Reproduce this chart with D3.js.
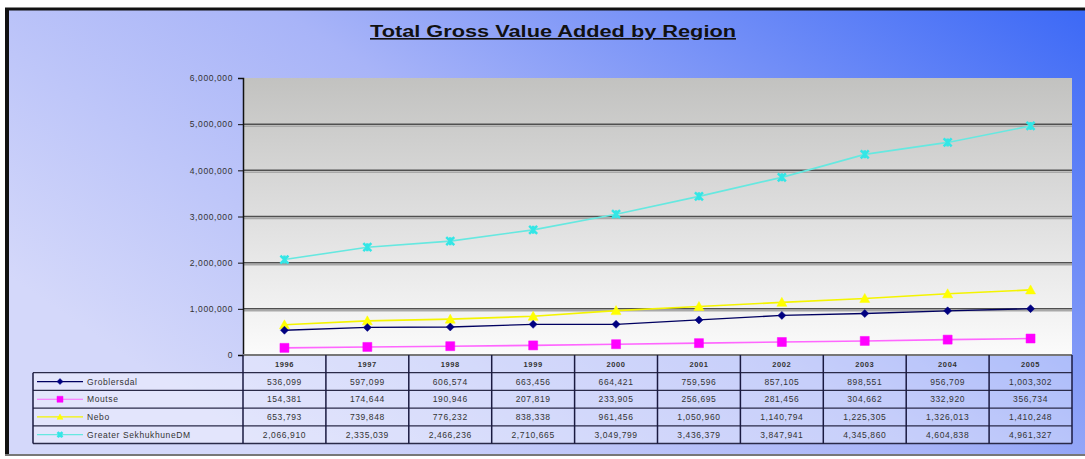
<!DOCTYPE html>
<html>
<head>
<meta charset="utf-8">
<script src="https://cdn.jsdelivr.net/npm/d3@7"></script>
<style>
  html, body { margin: 0; padding: 0; background: #fff; }
  svg { display: block; font-family: "Liberation Sans", Arial, sans-serif; }
</style>
</head>
<body>
<div id="chart"></div>
<script>
// chart data
const years = ['1996', '1997', '1998', '1999', '2000', '2001', '2002', '2003', '2004', '2005'];
const regionNames = ['Groblersdal', 'Moutse', 'Nebo', 'Greater SekhukhuneDM'];
const groblersdal = [536099, 597099, 606574, 663456, 664421, 759596, 857105, 898551, 956709, 1003302];
const moutse = [154381, 174644, 190946, 207819, 233905, 256695, 281456, 304662, 332920, 356734];
const nebo = [653793, 739848, 776232, 838338, 961456, 1050960, 1140794, 1225305, 1326013, 1410248];
const sekhukhune = [2066910, 2335039, 2466236, 2710665, 3049799, 3436379, 3847941, 4345860, 4604838, 4961327];
const yTicks = [0, 1000000, 2000000, 3000000, 4000000, 5000000, 6000000];

const W = 1085, H = 459;
const plot = { left: 243, right: 1072, top: 78, bottom: 355 };
const tableLeft = 33, rowH = 17.7;

const series = [
  { name: regionNames[0], values: groblersdal, color: '#000080', line: '#000060', marker: 'diamond' },
  { name: regionNames[1], values: moutse, color: '#ff00ff', line: '#ff66ff', marker: 'square' },
  { name: regionNames[2], values: nebo, color: '#ffff00', line: '#f4f400', marker: 'triangle' },
  { name: regionNames[3], values: sekhukhune, color: '#33e6e6', line: '#66e8e0', marker: 'star' }
];

const svg = d3.select('#chart').append('svg')
  .attr('width', W).attr('height', H);

const defs = svg.append('defs');
const bg = defs.append('linearGradient').attr('id', 'bg')
  .attr('x1', '0%').attr('y1', '60%').attr('x2', '100%').attr('y2', '0%');
bg.append('stop').attr('offset', '0%').attr('stop-color', '#d4d8fa');
bg.append('stop').attr('offset', '45%').attr('stop-color', '#a8b4f8');
bg.append('stop').attr('offset', '100%').attr('stop-color', '#3b68f6');

const plotBg = defs.append('linearGradient').attr('id', 'plotbg')
  .attr('x1', '0').attr('y1', '0').attr('x2', '0').attr('y2', '1');
plotBg.append('stop').attr('offset', '0%').attr('stop-color', '#c2c2c0');
plotBg.append('stop').attr('offset', '45%').attr('stop-color', '#dcdcdc');
plotBg.append('stop').attr('offset', '100%').attr('stop-color', '#fbfbfb');

// outer panel + frame
svg.append('rect').attr('x', 8).attr('y', 10).attr('width', W).attr('height', 444)
  .attr('fill', 'url(#bg)');
svg.append('line').attr('x1', 5).attr('x2', W).attr('y1', 9).attr('y2', 9)
  .attr('stroke', '#111').attr('stroke-width', 3);
svg.append('line').attr('x1', 7).attr('x2', 7).attr('y1', 8).attr('y2', 455)
  .attr('stroke', '#111').attr('stroke-width', 4);
svg.append('line').attr('x1', 5).attr('x2', W).attr('y1', 455).attr('y2', 455)
  .attr('stroke', '#777').attr('stroke-width', 2);

// title
svg.append('text')
  .attr('x', 553).attr('y', 37)
  .attr('text-anchor', 'middle')
  .attr('textLength', 366)
  .attr('lengthAdjust', 'spacingAndGlyphs')
  .style('font-size', '16px')
  .style('font-weight', 'bold')
  .style('fill', '#111')
  .style('text-decoration', 'underline')
  .text('Total Gross Value Added by Region');

// scales
const x = d3.scaleBand().domain(years).range([plot.left, plot.right]);
const y = d3.scaleLinear().domain([0, 6000000]).range([plot.bottom, plot.top]);

// plot area
svg.append('rect')
  .attr('x', plot.left).attr('y', plot.top)
  .attr('width', plot.right - plot.left).attr('height', plot.bottom - plot.top)
  .attr('fill', 'url(#plotbg)');

// gridlines
const grid = svg.append('g');
grid.selectAll('line.shadow').data(yTicks.filter(d => d > 0 && d < 6000000)).enter()
  .append('line').attr('class', 'shadow')
  .attr('x1', plot.left).attr('x2', plot.right)
  .attr('y1', d => y(d) + 2).attr('y2', d => y(d) + 2)
  .attr('stroke', '#a8a8a8').attr('stroke-width', 1.5);
grid.selectAll('line.main').data(yTicks.filter(d => d > 0 && d < 6000000)).enter()
  .append('line').attr('class', 'main')
  .attr('x1', plot.left).attr('x2', plot.right)
  .attr('y1', d => y(d)).attr('y2', d => y(d))
  .attr('stroke', '#505050').attr('stroke-width', 1.5);

// y axis
const yAxis = svg.append('g')
  .attr('transform', `translate(${plot.left},0)`)
  .call(d3.axisLeft(y).tickValues(yTicks).tickSize(5).tickPadding(5).tickFormat(d3.format(',')));
yAxis.select('.domain').attr('stroke', '#111').attr('stroke-width', 1.5);
yAxis.selectAll('.tick line').attr('stroke', '#111');
yAxis.selectAll('.tick text')
  .style('font-size', '8.5px').style('fill', '#333').style('letter-spacing', '0.6px')
  .attr('dy', '0.32em');

// table
const table = svg.append('g');
const valueRows = series.map(s => s.values);
const tableTop = plot.bottom;
const tableBottom = tableTop + rowH * (series.length + 1);

// cell background
table.append('rect')
  .attr('x', plot.left).attr('y', tableTop)
  .attr('width', plot.right - plot.left).attr('height', tableBottom - tableTop)
  .attr('fill', '#ffffff').attr('opacity', 0.35);
table.append('rect')
  .attr('x', tableLeft).attr('y', tableTop + rowH)
  .attr('width', plot.left - tableLeft).attr('height', rowH * series.length)
  .attr('fill', '#ffffff').attr('opacity', 0.35);

// horizontal lines
d3.range(series.length + 2).forEach(i => {
  const yy = tableTop + i * rowH;
  table.append('line')
    .attr('x1', i === 0 ? plot.left : tableLeft).attr('x2', plot.right)
    .attr('y1', yy).attr('y2', yy)
    .attr('stroke', i === 0 ? '#777' : '#2a2a48').attr('stroke-width', i === 0 ? 2 : 1.3);
});
// vertical lines
years.forEach(yr => {
  table.append('line')
    .attr('x1', x(yr)).attr('x2', x(yr))
    .attr('y1', tableTop).attr('y2', tableBottom)
    .attr('stroke', '#1a1a40').attr('stroke-width', 1.5);
});
table.append('line')
  .attr('x1', plot.right).attr('x2', plot.right)
  .attr('y1', tableTop).attr('y2', tableBottom)
  .attr('stroke', '#1a1a40').attr('stroke-width', 1.5);
table.append('line')
  .attr('x1', tableLeft).attr('x2', tableLeft)
  .attr('y1', tableTop + rowH).attr('y2', tableBottom)
  .attr('stroke', '#1a1a40').attr('stroke-width', 1.5);

// year header
table.selectAll('text.year').data(years).enter()
  .append('text').attr('class', 'year')
  .attr('x', d => x(d) + x.bandwidth() / 2)
  .attr('y', tableTop + rowH / 2 + 3)
  .attr('text-anchor', 'middle')
  .style('font-size', '7.5px').style('font-weight', 'bold').style('fill', '#333')
  .style('letter-spacing', '0.6px')
  .text(d => d);

// value cells
const fmt = d3.format(',');
valueRows.forEach((vals, r) => {
  table.selectAll(null).data(vals).enter()
    .append('text')
    .attr('x', (d, i) => x(years[i]) + x.bandwidth() / 2)
    .attr('y', tableTop + (r + 1) * rowH + rowH / 2 + 3)
    .attr('text-anchor', 'middle')
    .style('font-size', '8.5px').style('fill', '#333')
    .style('letter-spacing', '0.6px')
    .text(d => fmt(d));
});

// marker shapes
function markerPath(type, s) {
  if (type === 'diamond') return `M0,${-s}L${s},0L0,${s}L${-s},0Z`;
  if (type === 'square') return `M${-s},${-s}H${s}V${s}H${-s}Z`;
  if (type === 'triangle') return `M0,${-s}L${s},${s * 0.8}L${-s},${s * 0.8}Z`;
  return `M${-s},${-s}L${s},${s}M${-s},${s}L${s},${-s}M0,${-s}V${s}`;
}
function drawMarker(g, s, cx, cy, size) {
  const p = g.append('path')
    .attr('transform', `translate(${cx},${cy})`)
    .attr('d', markerPath(s.marker, size));
  if (s.marker === 'star') {
    p.attr('fill', 'none').attr('stroke', s.color).attr('stroke-width', 2.5);
  } else {
    p.attr('fill', s.color).attr('stroke', s.color).attr('stroke-width', 0.5);
  }
}

// legend keys in the table
series.forEach((s, r) => {
  const cy = tableTop + (r + 1) * rowH + rowH / 2;
  table.append('line')
    .attr('x1', tableLeft + 4).attr('x2', tableLeft + 50)
    .attr('y1', cy).attr('y2', cy)
    .attr('stroke', s.line).attr('stroke-width', 1.2);
  drawMarker(table, s, tableLeft + 27, cy, s.marker === 'star' ? 2.5 : 3);
  table.append('text')
    .attr('x', tableLeft + 54).attr('y', cy + 3)
    .style('font-size', '8.5px').style('fill', '#333')
    .style('letter-spacing', '0.6px')
    .text(s.name);
});

// series lines and markers
const lineGen = d3.line()
  .x((d, i) => x(years[i]) + x.bandwidth() / 2)
  .y(d => y(d));

const lines = svg.append('g');
series.forEach(s => {
  lines.append('path')
    .datum(s.values)
    .attr('fill', 'none')
    .attr('stroke', s.line)
    .attr('stroke-width', s.marker === 'diamond' ? 1.3 : 1.6)
    .attr('d', lineGen);
});
// draw markers, cyan/yellow first so navy stays on top like the original
[3, 1, 2, 0].forEach(k => {
  const s = series[k];
  const g = lines.append('g');
  s.values.forEach((v, i) => {
    const size = s.marker === 'square' ? 4.5 : s.marker === 'triangle' ? 5 : 4;
    drawMarker(g, s, x(years[i]) + x.bandwidth() / 2, y(v), size);
  });
});
</script>
</body>
</html>
